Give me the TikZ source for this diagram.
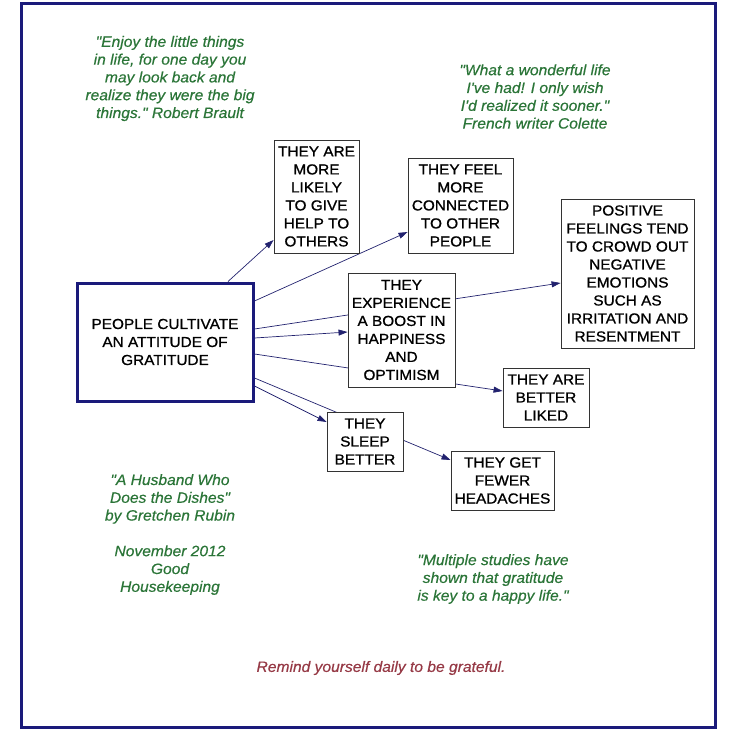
\documentclass[tikz,border=0pt]{standalone}
\usepackage{fontspec}
\setmainfont{Liberation Sans}[FakeStretch=1.06]
\newfontfamily\boxfont{Liberation Sans}[FakeStretch=1.06,FakeBold=0.9]
\newfontfamily\quotefont{Liberation Sans}[FakeStretch=1.04,FakeBold=0.5]
\usetikzlibrary{arrows.meta,backgrounds}
\definecolor{navy}{HTML}{1A1A7A}
\definecolor{lnk}{HTML}{22226E}
\definecolor{qgreen}{HTML}{2B7538}
\definecolor{qred}{HTML}{963A46}
\definecolor{boxgray}{HTML}{333333}
\tikzset{
  stepbox/.style={draw=boxgray, line width=0.9pt, fill=white, align=center, inner sep=1pt,
    font=\boxfont\fontsize{14.5}{18}\selectfont, text=black},
  mainbox/.style={draw=navy, line width=3pt, fill=white, align=center,
    font=\boxfont\fontsize{14.5}{18}\selectfont, text=black},
  quote/.style={align=center, text=qgreen, font=\quotefont\fontsize{15}{17.8}\selectfont\itshape},
  link/.style={draw=lnk, line width=0.7pt, -{Triangle[length=9pt,width=6pt]}, lnk},
}
\begin{document}
\begin{tikzpicture}[x=1pt,y=-1pt]
\useasboundingbox (0,0) rectangle (736,748);
\draw[navy, line width=3pt] (21,3) rectangle (715,727);

\node[mainbox, minimum width=176pt, minimum height=118pt] (main) at (165,342)
  {PEOPLE CULTIVATE\\AN ATTITUDE OF\\GRATITUDE};

\node[stepbox, minimum width=85pt, minimum height=113pt] (give) at (316.5,196.5)
  {THEY ARE\\MORE\\LIKELY\\TO GIVE\\HELP TO\\OTHERS};
\node[stepbox, minimum width=105pt, minimum height=95pt] (conn) at (460.5,205.5)
  {THEY FEEL\\MORE\\CONNECTED\\TO OTHER\\PEOPLE};
\node[stepbox, minimum width=107pt, minimum height=114pt] (exp) at (401.5,330)
  {THEY\\EXPERIENCE\\A BOOST IN\\HAPPINESS\\AND\\OPTIMISM};
\node[stepbox, minimum width=133pt, minimum height=149pt] (pos) at (627.5,273.5)
  {POSITIVE\\FEELINGS TEND\\TO CROWD OUT\\NEGATIVE\\EMOTIONS\\SUCH AS\\IRRITATION AND\\RESENTMENT};
\node[stepbox, minimum width=86pt, minimum height=59pt] (liked) at (546,397.5)
  {THEY ARE\\BETTER\\LIKED};
\node[stepbox, minimum width=76pt, minimum height=59pt] (sleep) at (365,441.5)
  {THEY\\SLEEP\\BETTER};
\node[stepbox, minimum width=103pt, minimum height=59pt] (head) at (502.5,480.5)
  {THEY GET\\FEWER\\HEADACHES};

\begin{pgfonlayer}{background}
\draw[link] ([xshift=63pt]main.north) -- ([yshift=-43.5pt]give.west);
\draw[link] ([yshift=41pt]main.east) -- ([yshift=-26.5pt]conn.west);
\draw[link] ([yshift=13pt]main.east) -- ([yshift=-9.5pt]pos.west);
\draw[link] ([yshift=4pt]main.east) -- ([yshift=-2pt]exp.west);
\draw[link] ([yshift=-12pt]main.east) -- ([yshift=6.5pt]liked.west);
\draw[link] ([yshift=-36pt]main.east) -- ([yshift=20.5pt]head.west);
\draw[link] ([yshift=-44pt]main.east) -- ([yshift=19.5pt]sleep.west);
\end{pgfonlayer}

\node[quote] (q1) at (170,78.5)
  {"Enjoy the little things\\in life, for one day you\\may look back and\\realize they were the big\\things." Robert Brault};
\node[quote] (q2) at (535,96.5)
  {"What a wonderful life\\I've had! I only wish\\I'd realized it sooner."\\French writer Colette};
\node[quote] (q3) at (170,534.5)
  {"A Husband Who\\Does the Dishes"\\by Gretchen Rubin\\[17.8pt]November 2012\\Good\\Housekeeping};
\node[quote] (q4) at (493,579)
  {"Multiple studies have\\shown that gratitude\\is key to a happy life."};
\node[quote, text=qred] (q5) at (381,668) {Remind yourself daily to be grateful.};
\end{tikzpicture}
\end{document}
